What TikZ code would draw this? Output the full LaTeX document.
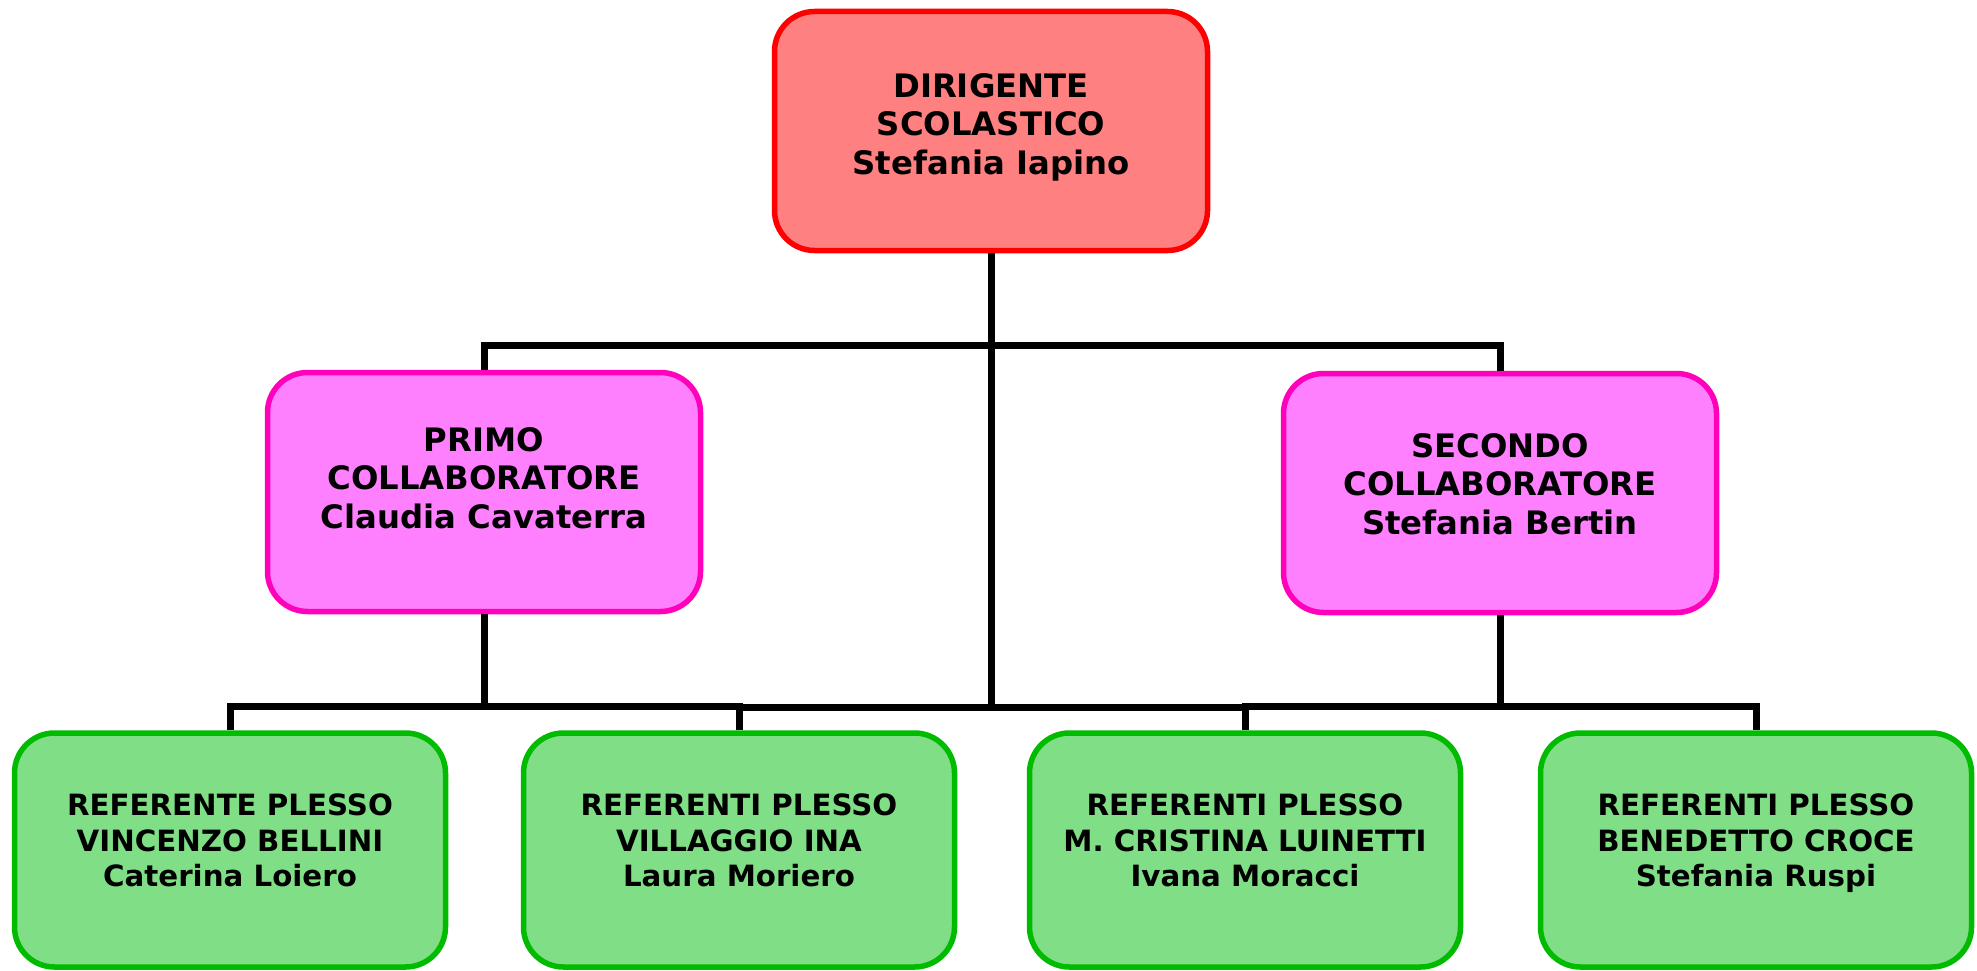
\documentclass[tikz,border=0pt]{standalone}
\usepackage{fontspec}
\setmainfont{DejaVu Sans}
\definecolor{redfill}{HTML}{FF8080}
\definecolor{redline}{HTML}{FF0000}
\definecolor{pinkfill}{HTML}{FF80FF}
\definecolor{pinkline}{HTML}{FF00BB}
\definecolor{greenfill}{HTML}{80DF86}
\definecolor{greenline}{HTML}{00BB00}
\begin{document}
\begin{tikzpicture}[x=1pt,y=-1pt,
  box/.style={draw, rounded corners=40pt, line width=5.5pt, inner sep=0pt},
  bigbox/.style={box, minimum width=433pt, minimum height=239pt},
  smallbox/.style={box, minimum width=431pt, minimum height=234pt},
  bigtxt/.style={align=center, anchor=north, font=\fontsize{32.3}{38.8}\selectfont\bfseries, inner sep=0pt},
  smalltxt/.style={align=center, anchor=north, font=\fontsize{29.3}{35.5}\selectfont\bfseries, inner sep=0pt},
  conn/.style={draw=black, line width=7pt, line join=miter}
]
\useasboundingbox (0,0) rectangle (1977,971);
% boxes
\node[bigbox, fill=redfill, draw=redline] (top) at (991,131) {};
\node[bigbox, fill=pinkfill, draw=pinkline] (primo) at (484,492) {};
\node[bigbox, fill=pinkfill, draw=pinkline] (secondo) at (1500,493) {};
\node[smallbox, fill=greenfill, draw=greenline] (b1) at (230,850) {};
\node[smallbox, fill=greenfill, draw=greenline] (b2) at (739,850) {};
\node[smallbox, fill=greenfill, draw=greenline] (b3) at (1245,850) {};
\node[smallbox, fill=greenfill, draw=greenline] (b4) at (1756,850) {};
% texts
\node[bigtxt] (toptxt) at (991,73) {DIRIGENTE\\SCOLASTICO\\Stefania Iapino};
\node[bigtxt] (primotxt) at (484,427) {PRIMO\\COLLABORATORE\\Claudia Cavaterra};
\node[bigtxt] (secondotxt) at (1500,433) {SECONDO\\COLLABORATORE\\Stefania Bertin};
\node[smalltxt] (b1txt) at (230,794) {REFERENTE PLESSO\\VINCENZO BELLINI\\Caterina Loiero};
\node[smalltxt] (b2txt) at (739,794) {REFERENTI PLESSO\\VILLAGGIO INA\\Laura Moriero};
\node[smalltxt] (b3txt) at (1245,794) {REFERENTI PLESSO\\M. CRISTINA LUINETTI\\Ivana Moracci};
\node[smalltxt] (b4txt) at (1756,794) {REFERENTI PLESSO\\BENEDETTO CROCE\\Stefania Ruspi};
% connectors
\coordinate (hubTop) at (991,345);
\coordinate (hubBot) at (991,707);
\coordinate (pj) at (484,706);
\coordinate (sj) at (1500,706);
\path[conn] (top.south) -- (hubBot);
\path[conn] (primo.north) |- (hubTop) -| (secondo.north);
\path[conn] (primo.south) -- (pj);
\path[conn] (b1.north) |- (pj) -| (b2.north);
\path[conn] (b2.north) |- (hubBot) -| (b3.north);
\path[conn] (secondo.south) -- (sj);
\path[conn] (b3.north) |- (sj) -| (b4.north);
\end{tikzpicture}
\end{document}
